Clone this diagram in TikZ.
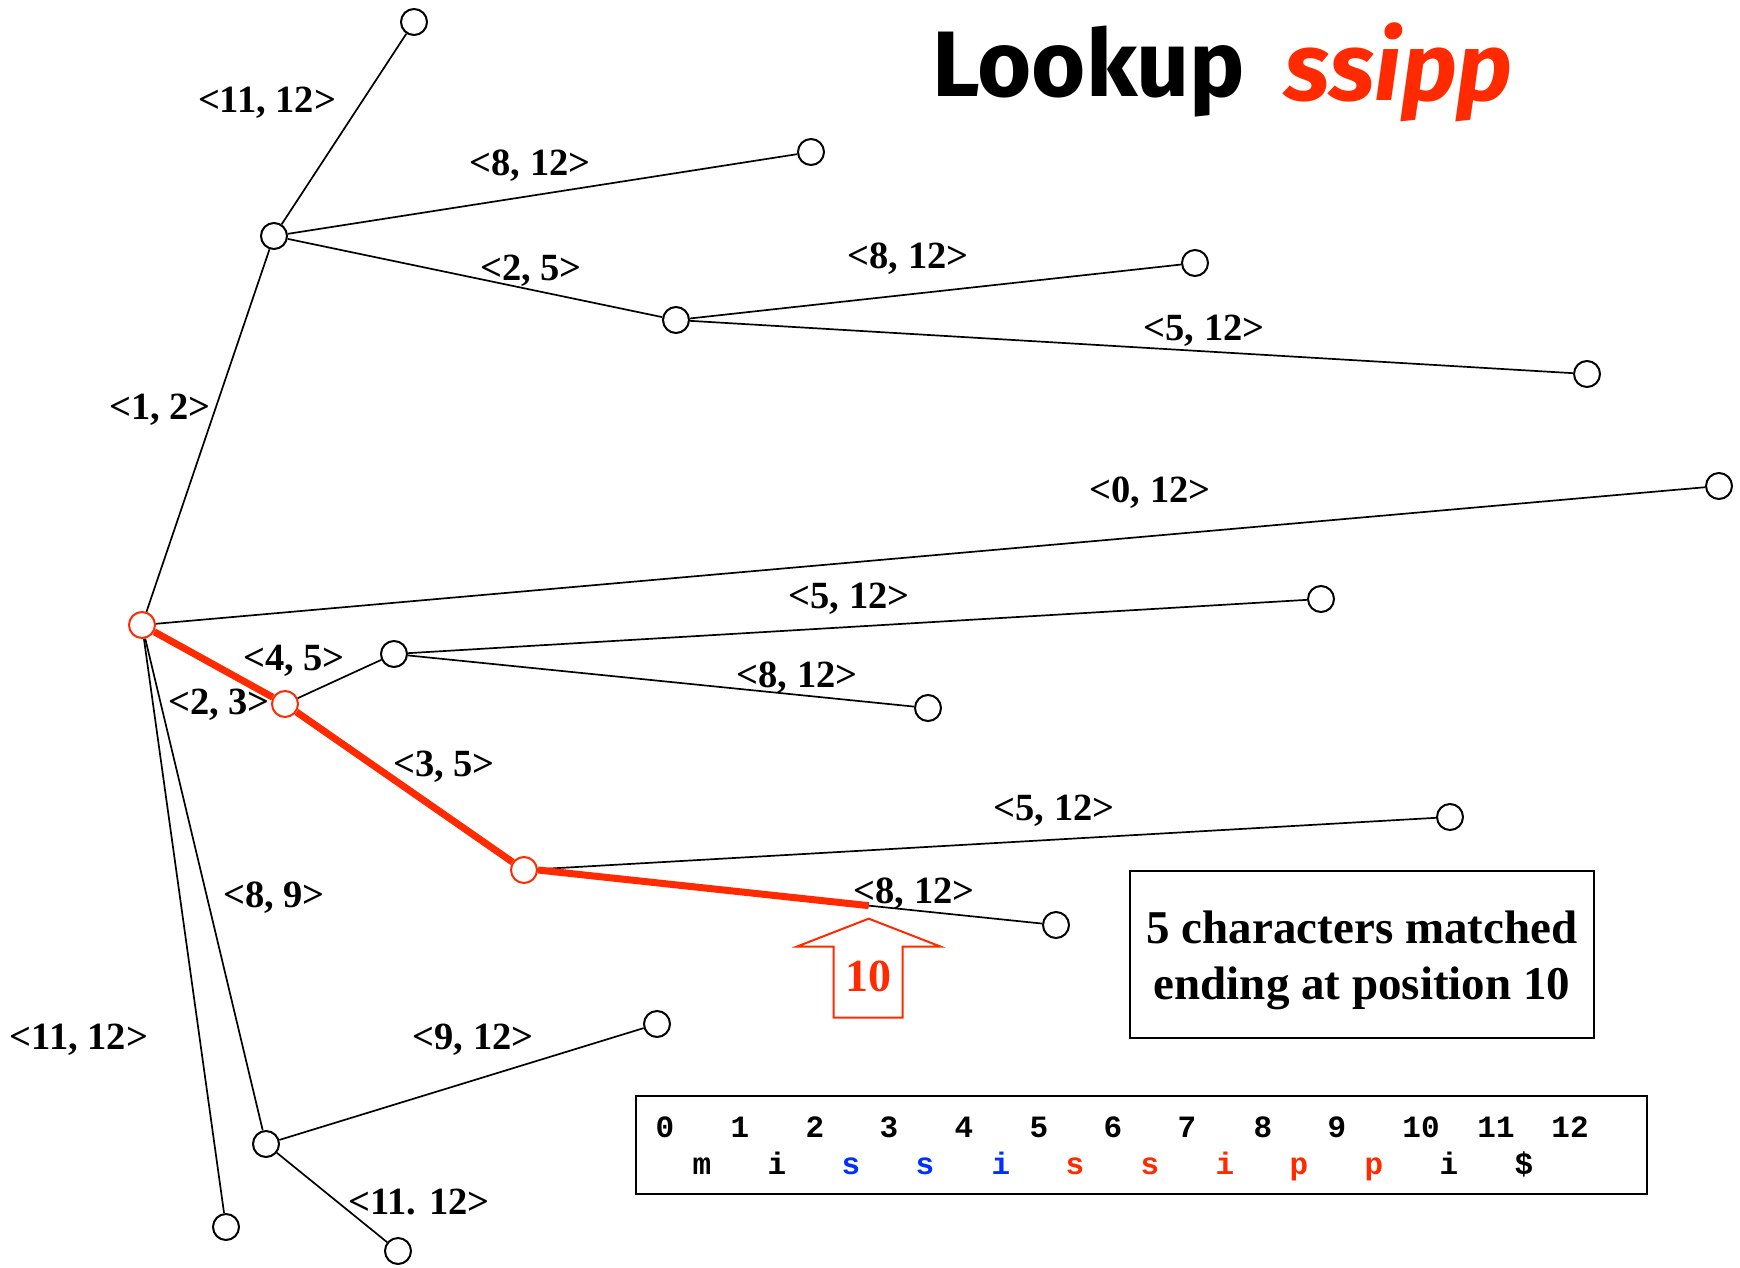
\documentclass[tikz,border=0pt]{standalone}
\usepackage{fontspec}
\setmainfont{Liberation Serif}
\newfontfamily\monof{Liberation Mono}
\newfontfamily\titlef{Fira Sans}
\usetikzlibrary{calc}
\definecolor{myred}{RGB}{255,42,0}
\definecolor{myblue}{RGB}{0,48,255}
\begin{document}
\begin{tikzpicture}[x=1pt,y=-1pt,
  vert/.style={circle,draw,line width=2pt,minimum size=26pt,inner sep=0pt,fill=white},
  rvert/.style={vert,draw=myred},
  edge/.style={line width=1.7pt},
  hot/.style={line width=7pt,draw=myred},
  lab/.style={font=\fontsize{38.5}{42}\selectfont\bfseries,inner sep=0pt,yshift=-4pt},
  dig/.style={font=\monof\fontsize{31}{36}\selectfont\bfseries,inner sep=0pt,anchor=base},
]
\useasboundingbox (0,0) rectangle (1740,1267);
% vertices
\node[rvert] (R) at (142,625) {};
\node[vert] (A) at (274,236) {};
\node[vert] (A1) at (414,22) {};
\node[vert] (A2) at (811,152) {};
\node[vert] (B) at (676,320) {};
\node[vert] (B1) at (1195,263) {};
\node[vert] (B2) at (1587,374) {};
\node[vert] (C) at (1719,486) {};
\node[rvert] (D) at (285,704) {};
\node[vert] (E) at (394,654) {};
\node[vert] (E1) at (1321,599) {};
\node[vert] (E2) at (928,708) {};
\node[rvert] (F) at (524,870) {};
\node[vert] (F1) at (1450,817) {};
\node[vert] (F2) at (1056,925) {};
\node[vert] (G) at (266,1144) {};
\node[vert] (G1) at (657,1024) {};
\node[vert] (G2) at (398,1251) {};
\node[vert] (H) at (226,1227) {};
% edges
\draw[edge] (R) -- (A);
\draw[edge] (A) -- (A1);
\draw[edge] (A) -- (A2);
\draw[edge] (A) -- (B);
\draw[edge] (B) -- (B1);
\draw[edge] (B) -- (B2);
\draw[edge] (R) -- (C);
\draw[edge] (D) -- (E);
\draw[edge] (E) -- (E1);
\draw[edge] (E) -- (E2);
\draw[edge] (F) -- (F1);
\draw[edge] (F) -- (F2);
\draw[edge] (R) -- (G);
\draw[edge] (G) -- (G1);
\draw[edge] (G) -- (G2);
\draw[edge] (R) -- (H);
\coordinate (P) at ($(F)!0.648!(F2)$);
\draw[hot] (R) -- (D);
\draw[hot] (D) -- (F);
\draw[hot] (F.east) -- (P);
% labels
\node[lab] (l1) at (267,99) {<11, 12>};
\node[lab] (l2) at (530,162) {<8, 12>};
\node[lab] (l3) at (531,267) {<2, 5>};
\node[lab] (l4) at (908,255) {<8, 12>};
\node[lab] (l5) at (1204,327) {<5, 12>};
\node[lab] (l6) at (160,406) {<1, 2>};
\node[lab] (l7) at (1150,489) {<0, 12>};
\node[lab] (l8) at (849,595) {<5, 12>};
\node[lab] (l9) at (294,657) {<4, 5>};
\node[lab] (l10) at (219,701) {<2, 3>};
\node[lab] (l11) at (797,674) {<8, 12>};
\node[lab] (l12) at (444,763) {<3, 5>};
\node[lab] (l13) at (1054,807) {<5, 12>};
\node[lab] (l14) at (914,890) {<8, 12>};
\node[lab] (l15) at (274,894) {<8, 9>};
\node[lab] (l16) at (79,1036) {<11, 12>};
\node[lab] (l17) at (473,1036) {<9, 12>};
\node[lab] (l18) at (419,1198) {<11. 12>};
% arrow
\draw[myred,line width=2pt,line join=miter]
  ($(P)+(0,13)$) -- ($(P)+(72,41)$) -- ($(P)+(34,41)$) -- ($(P)+(34,112)$)
  -- ($(P)+(-35,112)$) -- ($(P)+(-35,41)$) -- ($(P)+(-72,41)$) -- cycle;
\node[font=\fontsize{46}{50}\selectfont\bfseries,text=myred,inner sep=0pt] (ten) at ($(P)+(0,71)$) {10};
% title
\node[font=\titlef\fontsize{93}{100}\selectfont\bfseries,inner sep=0pt,anchor=west] (t1) at (932,72) {Lookup};
\node[font=\titlef\fontsize{96}{100}\selectfont\bfseries\itshape,text=myred,inner sep=0pt,anchor=west] (t2) at (1284,72) {ssipp};
% message box
\draw[line width=2pt] (1130,871) rectangle (1594,1038);
\node[font=\fontsize{47}{56}\selectfont\bfseries,align=center,inner sep=0pt] (msg) at (1362,960) {5 characters matched\\ending at position 10};
% string box
\draw[line width=2.2pt] (636,1096) rectangle (1647,1194);
\foreach \d/\x in {0/665,1/740,2/815,3/889,4/964,5/1039,6/1113,7/1187,8/1263,9/1337,10/1421,11/1496,12/1570}
  \node[dig] at (\x,1137) {\d};
\foreach \c/\x/\col in {m/702/black,i/777/black,s/851/myblue,s/925/myblue,i/1001/myblue,s/1075/myred,s/1150/myred,i/1225/myred,p/1299/myred,p/1374/myred,i/1449/black,\$/1524/black}
  \node[dig,text=\col] at (\x,1174) {\c};
\end{tikzpicture}
\end{document}
